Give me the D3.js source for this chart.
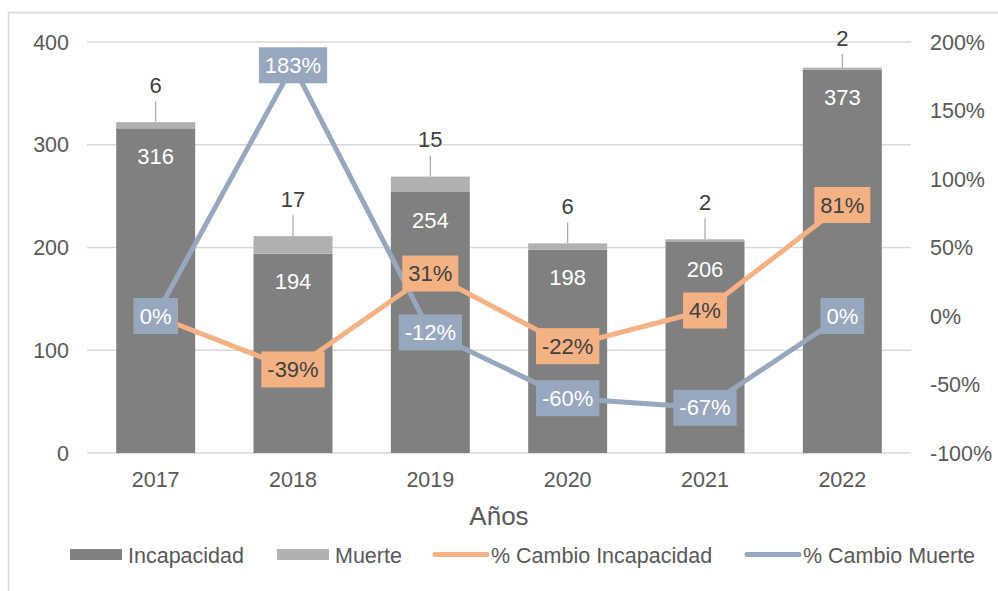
<!DOCTYPE html>
<html>
<head>
<meta charset="utf-8">
<script src="https://cdn.jsdelivr.net/npm/d3@7"></script>
<style>
  body { margin: 0; background: #fff; }
  svg { font-family: "Liberation Sans", Arial, sans-serif; }
  .tick-label { fill: #595959; font-size: 21.5px; }
</style>
</head>
<body>
<svg id="chart" width="998" height="591"></svg>
<script>
// data
var years = ["2017", "2018", "2019", "2020", "2021", "2022"];
var incapacidad = [316, 194, 254, 198, 206, 373];
var muerte = [6, 17, 15, 6, 2, 2];
var cambioIncapacidad = [0, -0.39, 0.31, -0.22, 0.04, 0.81];
var cambioMuerte = [0, 1.83, -0.12, -0.60, -0.67, 0];
var leftTicks = [0, 100, 200, 300, 400];
var rightTicks = [-1, -0.5, 0, 0.5, 1, 1.5, 2];

var colIncap = "#808080",
    colMuerte = "#b0b0b0",
    colOrange = "#f4b183",
    colBlue = "#97a7be",
    gridCol = "#d9d9d9";

var svg = d3.select("#chart");

// chart border (cropped at right/bottom)
svg.append("rect")
  .attr("x", 8.5).attr("y", 12.5)
  .attr("width", 1000).attr("height", 600)
  .attr("fill", "none").attr("stroke", "#d9d9d9").attr("stroke-width", 1.5);

var x = d3.scaleBand().domain(years).range([87, 911])
  .paddingInner(0.425).paddingOuter(0.2125);
var yL = d3.scaleLinear().domain([0, 400]).range([453, 42]);
var yR = d3.scaleLinear().domain([-1, 2]).range([453, 42]);

// gridlines
svg.append("g").selectAll("line")
  .data(leftTicks).enter().append("line")
  .attr("x1", 87).attr("x2", 911)
  .attr("y1", d => yL(d)).attr("y2", d => yL(d))
  .attr("stroke", gridCol).attr("stroke-width", 1.5);

// left axis labels
svg.append("g").selectAll("text")
  .data(leftTicks).enter().append("text")
  .attr("class", "tick-label")
  .attr("x", 69).attr("y", d => yL(d))
  .attr("dy", "0.35em").attr("text-anchor", "end")
  .text(d => d);

// right axis labels (hyphen minus like Excel)
var pct = d3.formatLocale({ decimal: ".", thousands: ",", grouping: [3], currency: ["", ""], minus: "-" }).format(".0%");
svg.append("g").selectAll("text")
  .data(rightTicks).enter().append("text")
  .attr("class", "tick-label")
  .attr("x", 930).attr("y", d => yR(d))
  .attr("dy", "0.35em").attr("text-anchor", "start")
  .text(d => pct(d));

// x axis labels
svg.append("g").selectAll("text")
  .data(years).enter().append("text")
  .attr("class", "tick-label")
  .attr("x", d => x(d) + x.bandwidth() / 2).attr("y", 479)
  .attr("dy", "0.35em").attr("text-anchor", "middle")
  .text(d => d);

svg.append("text")
  .attr("x", 499).attr("y", 525)
  .attr("text-anchor", "middle")
  .attr("fill", "#595959").attr("font-size", "26px")
  .text("Años");

// stacked bars
var bars = svg.append("g");
years.forEach(function (yr, i) {
  var bx = x(yr), bw = x.bandwidth();
  bars.append("rect")
    .attr("x", bx).attr("width", bw)
    .attr("y", yL(incapacidad[i])).attr("height", yL(0) - yL(incapacidad[i]))
    .attr("fill", colIncap);
  bars.append("rect")
    .attr("x", bx).attr("width", bw)
    .attr("y", yL(incapacidad[i] + muerte[i]))
    .attr("height", yL(incapacidad[i]) - yL(incapacidad[i] + muerte[i]))
    .attr("fill", colMuerte);
});

// lines
var line = d3.line()
  .x((d, i) => x(years[i]) + x.bandwidth() / 2)
  .y(d => yR(d));

svg.append("path").datum(cambioIncapacidad)
  .attr("d", line).attr("fill", "none")
  .attr("stroke", colOrange).attr("stroke-width", 5)
  .attr("stroke-linejoin", "round");
svg.append("path").datum(cambioMuerte)
  .attr("d", line).attr("fill", "none")
  .attr("stroke", colBlue).attr("stroke-width", 5)
  .attr("stroke-linejoin", "round");

// bar labels
var labels = svg.append("g");
years.forEach(function (yr, i) {
  var cx = x(yr) + x.bandwidth() / 2;
  labels.append("text")
    .attr("x", cx).attr("y", yL(incapacidad[i]) + 28)
    .attr("dy", "0.35em").attr("text-anchor", "middle")
    .attr("fill", "#fff").attr("font-size", "22px")
    .text(incapacidad[i]);
  var top = yL(incapacidad[i] + muerte[i]);
  var ly = Math.max(38, top - 37);
  labels.append("line")
    .attr("x1", cx).attr("x2", cx)
    .attr("y1", ly + 16).attr("y2", top)
    .attr("stroke", "#a6a6a6").attr("stroke-width", 1.2);
  labels.append("text")
    .attr("x", cx).attr("y", ly)
    .attr("dy", "0.35em").attr("text-anchor", "middle")
    .attr("fill", "#404040").attr("font-size", "22px")
    .text(muerte[i]);
});

// percent boxes
function boxLabels(values, fill, textCol) {
  var g = svg.append("g");
  values.forEach(function (v, i) {
    var cx = x(years[i]) + x.bandwidth() / 2, cy = yR(v);
    var lg = g.append("g");
    var r = lg.append("rect").attr("fill", fill);
    var t = lg.append("text")
      .attr("x", cx).attr("y", cy)
      .attr("dy", "0.35em").attr("text-anchor", "middle")
      .attr("fill", textCol).attr("font-size", "22px")
      .text(pct(v));
    var w = t.node().getComputedTextLength() + 12;
    r.attr("x", cx - w / 2).attr("y", cy - 18)
      .attr("width", w).attr("height", 36);
  });
}
boxLabels(cambioIncapacidad, colOrange, "#404040");
boxLabels(cambioMuerte, colBlue, "#fff");

// legend
var legend = svg.append("g");
var items = [
  { name: "Incapacidad", type: "rect", color: colIncap, x: 70 },
  { name: "Muerte", type: "rect", color: colMuerte, x: 277 },
  { name: "% Cambio Incapacidad", type: "line", color: colOrange, x: 433 },
  { name: "% Cambio Muerte", type: "line", color: colBlue, x: 745 }
];
items.forEach(function (it) {
  if (it.type === "rect") {
    legend.append("rect")
      .attr("x", it.x).attr("y", 549).attr("width", 52).attr("height", 11)
      .attr("fill", it.color);
  } else {
    legend.append("line")
      .attr("x1", it.x + 2).attr("x2", it.x + 54)
      .attr("y1", 554.5).attr("y2", 554.5)
      .attr("stroke", it.color).attr("stroke-width", 5)
      .attr("stroke-linecap", "round");
  }
  legend.append("text")
    .attr("x", it.x + 58).attr("y", 555)
    .attr("dy", "0.35em")
    .attr("fill", "#595959").attr("font-size", "21.5px")
    .text(it.name);
});
</script>
</body>
</html>
